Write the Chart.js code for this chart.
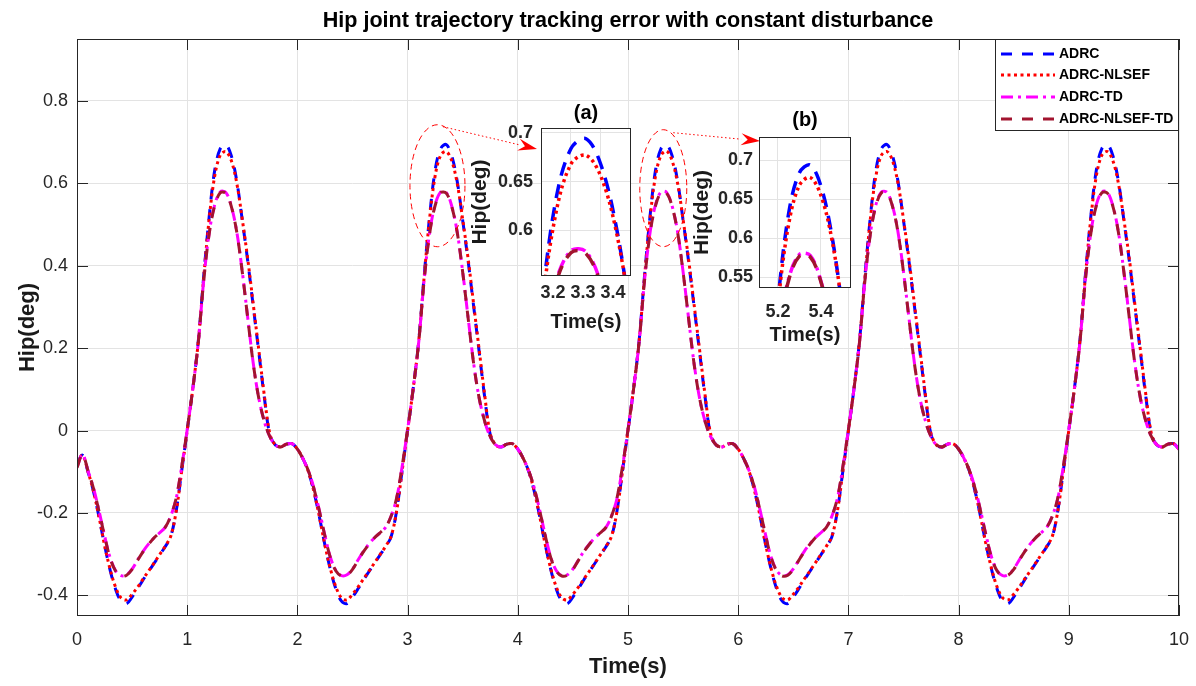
<!DOCTYPE html>
<html>
<head>
<meta charset="utf-8">
<script src="https://cdn.jsdelivr.net/npm/chart.js@4.4.1/dist/chart.umd.min.js"></script>
<style>
html,body{margin:0;padding:0;background:#fff;}
#wrap{position:relative;width:1196px;height:686px;overflow:hidden;}
canvas{position:absolute;display:block;}
</style>
</head>
<body>
<div id="wrap">
  <canvas id="main" width="1196" height="686" style="left:0;top:0"></canvas>
  <canvas id="insetA" width="173" height="240" style="left:465px;top:95px"></canvas>
  <canvas id="insetB" width="172" height="245" style="left:685px;top:100px"></canvas>
</div>
<script>
// sampling grid (s) - one sample every 0.05 s from 0 to 10
const time = [];
for (let i = 0; i <= 200; i++) time.push(Math.round(i * 5) / 100);

// hip tracking error (deg)
const adrc = [
  -0.080,-0.060,-0.100,-0.148,-0.210,-0.278,-0.338,-0.385,-0.414,-0.420,-0.404,-0.384,-0.362,-0.342,-0.322,-0.302,-0.282,-0.258,-0.195,-0.098,
  0.000,0.100,0.215,0.375,0.520,0.632,0.684,0.694,0.667,0.605,0.510,0.410,0.300,0.190,0.080,-0.010,-0.035,-0.040,-0.033,-0.032,
  -0.045,-0.068,-0.100,-0.148,-0.210,-0.278,-0.338,-0.385,-0.414,-0.420,-0.404,-0.384,-0.362,-0.342,-0.322,-0.302,-0.282,-0.258,-0.195,-0.098,
  0.000,0.100,0.215,0.375,0.520,0.632,0.684,0.694,0.667,0.605,0.510,0.410,0.300,0.190,0.080,-0.010,-0.035,-0.040,-0.033,-0.032,
  -0.045,-0.068,-0.100,-0.148,-0.210,-0.278,-0.338,-0.385,-0.414,-0.420,-0.404,-0.384,-0.362,-0.342,-0.322,-0.302,-0.282,-0.258,-0.195,-0.098,
  0.000,0.100,0.215,0.375,0.520,0.632,0.684,0.694,0.667,0.605,0.510,0.410,0.300,0.190,0.080,-0.010,-0.035,-0.040,-0.033,-0.032,
  -0.045,-0.068,-0.100,-0.148,-0.210,-0.278,-0.338,-0.385,-0.414,-0.420,-0.404,-0.384,-0.362,-0.342,-0.322,-0.302,-0.282,-0.258,-0.195,-0.098,
  0.000,0.100,0.215,0.375,0.520,0.632,0.684,0.694,0.667,0.605,0.510,0.410,0.300,0.190,0.080,-0.010,-0.035,-0.040,-0.033,-0.032,
  -0.045,-0.068,-0.100,-0.148,-0.210,-0.278,-0.338,-0.385,-0.414,-0.420,-0.404,-0.384,-0.362,-0.342,-0.322,-0.302,-0.282,-0.258,-0.195,-0.098,
  0.000,0.100,0.215,0.375,0.520,0.632,0.684,0.694,0.667,0.605,0.510,0.410,0.300,0.190,0.080,-0.010,-0.035,-0.040,-0.033,-0.032,
  -0.045
];
const adrcNlsef = [
  -0.080,-0.060,-0.100,-0.148,-0.210,-0.278,-0.336,-0.380,-0.406,-0.411,-0.397,-0.380,-0.360,-0.341,-0.321,-0.301,-0.281,-0.257,-0.196,-0.099,
  0.000,0.100,0.214,0.372,0.515,0.618,0.668,0.677,0.655,0.600,0.512,0.415,0.305,0.195,0.085,-0.008,-0.035,-0.040,-0.033,-0.032,
  -0.045,-0.068,-0.100,-0.148,-0.210,-0.278,-0.336,-0.380,-0.406,-0.411,-0.397,-0.380,-0.360,-0.341,-0.321,-0.301,-0.281,-0.257,-0.196,-0.099,
  0.000,0.100,0.214,0.372,0.515,0.618,0.668,0.677,0.655,0.600,0.512,0.415,0.305,0.195,0.085,-0.008,-0.035,-0.040,-0.033,-0.032,
  -0.045,-0.068,-0.100,-0.148,-0.210,-0.278,-0.336,-0.380,-0.406,-0.411,-0.397,-0.380,-0.360,-0.341,-0.321,-0.301,-0.281,-0.257,-0.196,-0.099,
  0.000,0.100,0.214,0.372,0.515,0.618,0.668,0.678,0.655,0.600,0.512,0.415,0.305,0.195,0.085,-0.008,-0.035,-0.040,-0.033,-0.032,
  -0.045,-0.068,-0.100,-0.148,-0.210,-0.278,-0.336,-0.380,-0.406,-0.411,-0.397,-0.380,-0.360,-0.341,-0.321,-0.301,-0.281,-0.257,-0.196,-0.099,
  0.000,0.100,0.214,0.372,0.515,0.618,0.668,0.677,0.655,0.600,0.512,0.415,0.305,0.195,0.085,-0.008,-0.035,-0.040,-0.033,-0.032,
  -0.045,-0.068,-0.100,-0.148,-0.210,-0.278,-0.336,-0.380,-0.406,-0.411,-0.397,-0.380,-0.360,-0.341,-0.321,-0.301,-0.281,-0.257,-0.196,-0.099,
  0.000,0.100,0.214,0.372,0.515,0.618,0.668,0.677,0.655,0.600,0.512,0.415,0.305,0.195,0.085,-0.008,-0.035,-0.040,-0.033,-0.032,
  -0.045
];
const adrcTd = [
  -0.088,-0.058,-0.098,-0.140,-0.195,-0.255,-0.308,-0.340,-0.352,-0.350,-0.336,-0.314,-0.293,-0.275,-0.260,-0.248,-0.235,-0.208,-0.165,-0.088,
  0.002,0.100,0.212,0.365,0.480,0.548,0.579,0.578,0.545,0.482,0.385,0.272,0.162,0.078,0.022,-0.015,-0.035,-0.040,-0.033,-0.032,
  -0.045,-0.068,-0.098,-0.140,-0.195,-0.255,-0.308,-0.340,-0.352,-0.350,-0.336,-0.314,-0.293,-0.275,-0.260,-0.248,-0.235,-0.208,-0.165,-0.088,
  0.002,0.100,0.212,0.365,0.480,0.548,0.579,0.578,0.545,0.482,0.385,0.272,0.162,0.078,0.022,-0.015,-0.035,-0.040,-0.033,-0.032,
  -0.045,-0.068,-0.098,-0.140,-0.195,-0.255,-0.308,-0.340,-0.352,-0.350,-0.336,-0.314,-0.293,-0.275,-0.260,-0.248,-0.235,-0.208,-0.165,-0.088,
  0.002,0.100,0.212,0.365,0.480,0.548,0.579,0.578,0.545,0.482,0.385,0.272,0.162,0.078,0.022,-0.015,-0.035,-0.040,-0.033,-0.032,
  -0.045,-0.068,-0.098,-0.140,-0.195,-0.255,-0.308,-0.340,-0.352,-0.350,-0.336,-0.314,-0.293,-0.275,-0.260,-0.248,-0.235,-0.208,-0.165,-0.088,
  0.002,0.100,0.212,0.365,0.480,0.548,0.579,0.578,0.545,0.482,0.385,0.272,0.162,0.078,0.022,-0.015,-0.035,-0.040,-0.033,-0.032,
  -0.045,-0.068,-0.098,-0.140,-0.195,-0.255,-0.308,-0.340,-0.352,-0.350,-0.336,-0.314,-0.293,-0.275,-0.260,-0.248,-0.235,-0.208,-0.165,-0.088,
  0.002,0.100,0.212,0.365,0.480,0.548,0.579,0.578,0.545,0.482,0.385,0.272,0.162,0.078,0.022,-0.015,-0.035,-0.040,-0.033,-0.032,
  -0.045
];
const adrcNlsefTd = [
  -0.090,-0.058,-0.098,-0.141,-0.196,-0.256,-0.309,-0.341,-0.353,-0.351,-0.337,-0.315,-0.294,-0.276,-0.260,-0.248,-0.235,-0.208,-0.164,-0.087,
  0.002,0.100,0.212,0.364,0.478,0.546,0.577,0.576,0.544,0.481,0.384,0.271,0.161,0.078,0.022,-0.015,-0.035,-0.040,-0.033,-0.032,
  -0.045,-0.068,-0.098,-0.141,-0.196,-0.256,-0.309,-0.341,-0.353,-0.351,-0.337,-0.315,-0.294,-0.276,-0.260,-0.248,-0.235,-0.208,-0.164,-0.087,
  0.002,0.100,0.212,0.364,0.478,0.546,0.577,0.576,0.544,0.481,0.384,0.271,0.161,0.078,0.022,-0.015,-0.035,-0.040,-0.033,-0.032,
  -0.045,-0.068,-0.098,-0.141,-0.196,-0.256,-0.309,-0.341,-0.353,-0.351,-0.337,-0.315,-0.294,-0.276,-0.260,-0.248,-0.235,-0.208,-0.164,-0.087,
  0.002,0.100,0.212,0.364,0.478,0.546,0.577,0.576,0.544,0.481,0.384,0.271,0.161,0.078,0.022,-0.015,-0.035,-0.040,-0.033,-0.032,
  -0.045,-0.068,-0.098,-0.141,-0.196,-0.256,-0.309,-0.341,-0.353,-0.351,-0.337,-0.315,-0.294,-0.276,-0.260,-0.248,-0.235,-0.208,-0.164,-0.087,
  0.002,0.100,0.212,0.364,0.478,0.546,0.577,0.576,0.544,0.481,0.384,0.271,0.161,0.078,0.022,-0.015,-0.035,-0.040,-0.033,-0.032,
  -0.045,-0.068,-0.098,-0.141,-0.196,-0.256,-0.309,-0.341,-0.353,-0.351,-0.337,-0.315,-0.294,-0.276,-0.260,-0.248,-0.235,-0.208,-0.164,-0.087,
  0.002,0.100,0.212,0.364,0.478,0.546,0.577,0.576,0.544,0.481,0.384,0.271,0.161,0.078,0.022,-0.015,-0.035,-0.040,-0.033,-0.032,
  -0.045
];

const seriesNames = ["ADRC", "ADRC-NLSEF", "ADRC-TD", "ADRC-NLSEF-TD"];
const xTicks = [0,1,2,3,4,5,6,7,8,9,10];
const yTicks = [-0.4,-0.2,0,0.2,0.4,0.6,0.8];
const aTicksX = [3.2,3.3,3.4];
const aTicksY = [0.6,0.65,0.7];
const bTicksX = [5.2,5.4];
const bTicksY = [0.55,0.6,0.65,0.7];

const FONT = "'Liberation Sans', Arial, Helvetica, sans-serif";
const GRID = "#e3e3e3";
const AXIS = "#262626";

function pts(arr){ return arr.map((v,i)=>({x:time[i], y:v})); }

function buildDatasets(big){
    const w = big ? 3.5 : 3;
    const dash = big ? [14,9] : [11,10];
    const common = {pointRadius:0, tension:0.35, fill:false, clip:0};
    return [
        {...common, label:seriesNames[0], data:pts(adrc), borderColor:"#0000ff", borderWidth:w, borderDash:dash, order:4},
        {...common, label:seriesNames[1], data:pts(adrcNlsef), borderColor:"#ff0000", borderWidth:w, borderDash:[3,3.5], order:3},
        {...common, label:seriesNames[2], data:pts(adrcTd), borderColor:"#ff00ff", borderWidth:w, borderDash:big?[14,5,3,5]:[12,5,3,5], order:2},
        {...common, label:seriesNames[3], data:pts(adrcNlsefTd), borderColor:"#a2142f", borderWidth:w, borderDash:dash, order:1}
    ];
}

// keep the plot area exactly where the layout puts it
function noScalePad(s){
    s.paddingLeft = 0; s.paddingRight = 0; s.paddingTop = 0; s.paddingBottom = 0;
}

// white plot background + MATLAB style box with inward ticks
const axesBox = {
    id:"axesBox",
    beforeDraw(chart){
        const a = chart.chartArea, c = chart.ctx;
        c.save();
        c.fillStyle = "#fff";
        c.fillRect(a.left, a.top, a.right-a.left, a.bottom-a.top);
        c.restore();
    },
    afterDatasetsDraw(chart, args, opts){
        const {ctx, chartArea:a, scales:{x, y}} = chart;
        const len = opts.tickLen || 0;
        ctx.save();
        ctx.strokeStyle = AXIS;
        ctx.lineWidth = 1;
        ctx.beginPath();
        if (len > 0) {
            x.ticks.forEach(t=>{
                const px = Math.round(x.getPixelForValue(t.value)) + 0.5;
                ctx.moveTo(px, a.bottom); ctx.lineTo(px, a.bottom - len);
                ctx.moveTo(px, a.top); ctx.lineTo(px, a.top + len);
            });
            y.ticks.forEach(t=>{
                const py = Math.round(y.getPixelForValue(t.value)) + 0.5;
                ctx.moveTo(a.left, py); ctx.lineTo(a.left + len, py);
                ctx.moveTo(a.right, py); ctx.lineTo(a.right - len, py);
            });
        }
        ctx.stroke();
        ctx.strokeRect(Math.round(a.left)+0.5, Math.round(a.top)+0.5, Math.round(a.right-a.left)-1, Math.round(a.bottom-a.top)-1);
        ctx.restore();
    }
};

// boxed legend in the upper right corner of the plot
const boxLegend = {
    id:"boxLegend",
    afterDraw(chart){
        const {ctx, chartArea:a} = chart;
        const w = 184, h = 92, left = a.right - w, top = a.top;
        ctx.save();
        ctx.fillStyle = "#fff";
        ctx.fillRect(left, top, w, h);
        ctx.strokeStyle = AXIS;
        ctx.lineWidth = 1;
        ctx.strokeRect(left+0.5, top+0.5, w-1, h-1);
        ctx.font = "bold 14px " + FONT;
        ctx.textBaseline = "middle";
        chart.data.datasets.forEach((ds, i)=>{
            const yy = Math.round(top + 14.5 + i*21.7);
            ctx.save();
            ctx.strokeStyle = ds.borderColor;
            ctx.lineWidth = 3;
            ctx.setLineDash(ds.borderDash || []);
            ctx.beginPath();
            ctx.moveTo(left+6, yy);
            ctx.lineTo(left+60, yy);
            ctx.stroke();
            ctx.restore();
            ctx.fillStyle = "#000";
            ctx.fillText(ds.label, left+64, yy);
        });
        ctx.restore();
    }
};

// red ellipses around the zoomed peaks and arrows to the insets
const zoomSpots = [
    {t:3.271, v:0.594, rx:27.5, ry:61, from:[5.5,2], tip:[537,149]},
    {t:5.320, v:0.588, rx:23.5, ry:58.5, from:[10,3], tip:[760,141]}
];
const zoomMarks = {
    id:"zoomMarks",
    afterDatasetsDraw(chart){
        const {ctx, scales:{x, y}} = chart;
        ctx.save();
        ctx.strokeStyle = "#ff0000";
        ctx.fillStyle = "#ff0000";
        ctx.lineWidth = 1;
        zoomSpots.forEach(s=>{
            const cx = x.getPixelForValue(s.t), cy = y.getPixelForValue(s.v);
            ctx.setLineDash([6,4]);
            ctx.beginPath();
            ctx.ellipse(cx, cy, s.rx, s.ry, 0, 0, Math.PI*2);
            ctx.stroke();
            const x0 = cx + s.from[0], y0 = cy - s.ry + s.from[1];
            const [x1, y1] = s.tip;
            const ang = Math.atan2(y1-y0, x1-x0);
            const hl = 19, hw = 6;
            const bx = x1 - hl*Math.cos(ang), by = y1 - hl*Math.sin(ang);
            ctx.setLineDash([1.5,2.5]);
            ctx.beginPath();
            ctx.moveTo(x0, y0);
            ctx.lineTo(bx, by);
            ctx.stroke();
            ctx.setLineDash([]);
            ctx.beginPath();
            ctx.moveTo(x1, y1);
            ctx.lineTo(bx + hw*Math.sin(ang), by - hw*Math.cos(ang));
            ctx.lineTo(bx + 0.35*hl*Math.cos(ang), by + 0.35*hl*Math.sin(ang));
            ctx.lineTo(bx - hw*Math.sin(ang), by + hw*Math.cos(ang));
            ctx.closePath();
            ctx.fill();
        });
        ctx.restore();
    }
};

new Chart(document.getElementById("main"), {
    type:"line",
    data:{datasets:buildDatasets(false)},
    options:{
        responsive:false, animation:false, devicePixelRatio:1, events:[],
        layout:{padding:{left:0, right:17, top:0, bottom:0}},
        plugins:{
            legend:{display:false},
            tooltip:{enabled:false},
            axesBox:{tickLen:11},
            title:{display:true, fullSize:false, color:"#000",
                text:"Hip joint trajectory tracking error with constant disturbance",
                font:{family:FONT, size:21.6, weight:"bold", lineHeight:1},
                padding:{top:10, bottom:7.4}}
        },
        scales:{
            x:{type:"linear", min:0, max:10,
                afterFit:s=>{ s.height = 70; noScalePad(s); },
                afterBuildTicks:s=>{ s.ticks = xTicks.map(v=>({value:v})); },
                grid:{color:GRID, drawTicks:false}, border:{display:false},
                ticks:{color:AXIS, font:{family:FONT, size:18}, padding:13, maxRotation:0, autoSkip:false, callback:v=>String(v)},
                title:{display:true, text:"Time(s)", color:"#1a1a1a",
                    font:{family:FONT, size:22, weight:"bold", lineHeight:1.2}, padding:{top:0, bottom:6}}
            },
            y:{type:"linear", min:-0.45, max:0.95,
                afterFit:s=>{ s.width = 77; noScalePad(s); },
                afterBuildTicks:s=>{ s.ticks = yTicks.map(v=>({value:v})); },
                grid:{color:GRID, drawTicks:false}, border:{display:false},
                ticks:{color:AXIS, font:{family:FONT, size:18}, padding:9, autoSkip:false, callback:v=>String(v)},
                title:{display:true, text:"Hip(deg)", color:"#1a1a1a",
                    font:{family:FONT, size:22, weight:"bold", lineHeight:1.2}, padding:{top:15, bottom:0}}
            }
        }
    },
    plugins:[axesBox, zoomMarks, boxLegend]
});

function makeInset(id, o){
    return new Chart(document.getElementById(id), {
        type:"line",
        data:{datasets:buildDatasets(true)},
        options:{
            responsive:false, animation:false, devicePixelRatio:1, events:[],
            layout:{padding:{left:0, right:o.padRight, top:0, bottom:0}},
            plugins:{
                legend:{display:false},
                tooltip:{enabled:false},
                axesBox:{tickLen:0},
                title:{display:true, fullSize:false, color:"#000", text:o.title,
                    font:{family:FONT, size:20, weight:"bold", lineHeight:1},
                    padding:{top:o.titleTop, bottom:o.titleBottom}}
            },
            scales:{
                x:{type:"linear", min:o.xMin, max:o.xMax,
                    afterFit:s=>{ s.height = o.xHeight; noScalePad(s); },
                    afterBuildTicks:s=>{ s.ticks = o.xTicks.map(v=>({value:v})); },
                    grid:{color:GRID, drawTicks:false}, border:{display:false},
                    ticks:{color:AXIS, font:{family:FONT, size:18, weight:"bold"}, padding:o.xTickPad, labelOffset:o.labelOffset,
                        maxRotation:0, autoSkip:false, callback:v=>String(v)},
                    title:{display:true, text:"Time(s)", color:"#1a1a1a",
                        font:{family:FONT, size:20, weight:"bold", lineHeight:1}, padding:{top:0, bottom:o.xTitleBottom}}
                },
                y:{type:"linear", min:o.yMin, max:o.yMax,
                    afterFit:s=>{ s.width = o.yWidth; noScalePad(s); },
                    afterBuildTicks:s=>{ s.ticks = o.yTicks.map(v=>({value:v})); },
                    grid:{color:GRID, drawTicks:false}, border:{display:false},
                    ticks:{color:AXIS, font:{family:FONT, size:18, weight:"bold"}, padding:o.yTickPad, autoSkip:false, callback:v=>String(v)},
                    title:{display:true, text:"Hip(deg)", color:"#1a1a1a",
                        font:{family:FONT, size:21, weight:"bold", lineHeight:1}, padding:{top:o.yTitleTop, bottom:0}}
                }
            }
        },
        plugins:[axesBox]
    });
}

makeInset("insetA", {
    title:"(a)", xMin:3.2, xMax:3.5, yMin:0.553, yMax:0.705, xTicks:aTicksX, yTicks:aTicksY,
    padRight:7, titleTop:8, titleBottom:5, xHeight:59, xTickPad:6, labelOffset:12, xTitleBottom:3,
    yWidth:76, yTickPad:8, yTitleTop:5
});
makeInset("insetB", {
    title:"(b)", xMin:5.112, xMax:5.54, yMin:0.536, yMax:0.73, xTicks:bTicksX, yTicks:bTicksY,
    padRight:6, titleTop:10, titleBottom:7, xHeight:57, xTickPad:13, labelOffset:0, xTitleBottom:0,
    yWidth:74, yTickPad:6, yTitleTop:7
});
</script>
</body>
</html>
